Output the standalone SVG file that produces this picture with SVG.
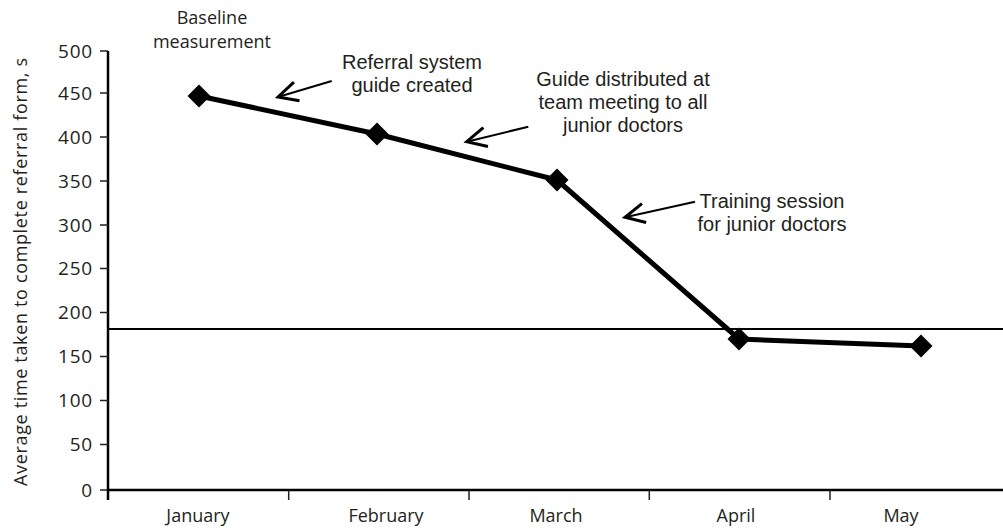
<svg xmlns="http://www.w3.org/2000/svg" width="1003" height="529" viewBox="0 0 1003 529">
<style>
text{font-family:"Open Sans","Liberation Sans",sans-serif;fill:#231f20;}
.ax{font-size:18px;}
.yl{font-size:19px;text-anchor:end;letter-spacing:0.8px;}
.xl{font-size:18px;text-anchor:middle;}
.an{font-family:"Liberation Sans","Open Sans",sans-serif;font-size:20px;text-anchor:middle;}
.axis{stroke:#000;stroke-width:2.5;fill:none;}
.tick{stroke:#222;stroke-width:1.5;fill:none;}
.data{stroke:#000;stroke-width:5;fill:none;stroke-linejoin:round;}
.pt{fill:#000;}
.arr{stroke:#000;stroke-width:2;fill:none;marker-end:url(#openArrow);}
</style>
<defs>
<marker id="openArrow" markerUnits="userSpaceOnUse" markerWidth="30" markerHeight="30" refX="0" refY="0" viewBox="-15 -10 20 20" orient="auto" overflow="visible">
<path d="M-13,-6.5 L0,0 L-13,6.5" fill="none" stroke="#000" stroke-width="2"/>
</marker>
<path id="dia" d="M0,-11.5 L11.5,0 L0,11.5 L-11.5,0 Z"/>
</defs>

<g id="y-axis">
<line class="axis" x1="108" y1="51" x2="108" y2="500" stroke-width="2"/>
<path class="tick" d="M100,490H108M100,444.5H108M100,400.5H108M100,356.5H108M100,312.5H108M100,268.5H108M100,225H108M100,181H108M100,137H108M100,93H108M100,51H108"/>
<text class="yl" x="93" y="496.5">0</text>
<text class="yl" x="93" y="451">50</text>
<text class="yl" x="93" y="407">100</text>
<text class="yl" x="93" y="363">150</text>
<text class="yl" x="93" y="319">200</text>
<text class="yl" x="93" y="275">250</text>
<text class="yl" x="93" y="231.5">300</text>
<text class="yl" x="93" y="187.5">350</text>
<text class="yl" x="93" y="143.5">400</text>
<text class="yl" x="93" y="99.5">450</text>
<text class="yl" x="93" y="57.5">500</text>
<text class="ax" transform="translate(27,272) rotate(-90)" text-anchor="middle" font-size="19" textLength="428" lengthAdjust="spacing">Average time taken to complete referral form, s</text>
</g>

<g id="x-axis">
<line class="axis" x1="107" y1="490" x2="1003" y2="490"/>
<path class="tick" d="M288.7,490V500M469,490V500M649.3,490V500M830,490V500"/>
<text class="xl" x="198" y="522">January</text>
<text class="xl" x="386" y="522">February</text>
<text class="xl" x="556" y="522">March</text>
<text class="xl" x="736" y="522">April</text>
<text class="xl" x="901" y="522">May</text>
</g>

<g id="target-line">
<line x1="108" y1="329" x2="1003" y2="329" stroke="#000" stroke-width="2"/>
</g>

<g id="connectors">
<polyline class="data" points="199,96 377,134 557,180 739,339 921,346"/>
<line class="arr" x1="331.7" y1="81" x2="278" y2="97"/>
<line class="arr" x1="528.3" y1="126.7" x2="466.7" y2="141.7"/>
<line class="arr" x1="695" y1="201.7" x2="625" y2="217.3"/>
</g>

<g id="point-jan"><use href="#dia" class="pt" x="199" y="96"/></g>
<g id="point-feb"><use href="#dia" class="pt" x="377" y="134"/></g>
<g id="point-mar"><use href="#dia" class="pt" x="557" y="180"/></g>
<g id="point-apr"><use href="#dia" class="pt" x="739" y="339"/></g>
<g id="point-may"><use href="#dia" class="pt" x="921" y="346"/></g>

<g id="label-baseline">
<text class="ax" x="212" y="24" text-anchor="middle">Baseline</text>
<text class="ax" x="212" y="48" text-anchor="middle">measurement</text>
</g>
<g id="label-referral">
<text class="an" x="412" y="69">Referral system</text>
<text class="an" x="412" y="92">guide created</text>
</g>
<g id="label-guide">
<text class="an" x="623" y="86">Guide distributed at</text>
<text class="an" x="623" y="109">team meeting to all</text>
<text class="an" x="623" y="132">junior doctors</text>
</g>
<g id="label-training">
<text class="an" x="772" y="208">Training session</text>
<text class="an" x="772" y="231">for junior doctors</text>
</g>
</svg>
